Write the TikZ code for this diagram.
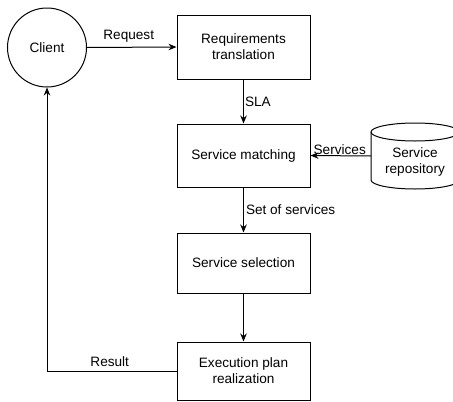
\documentclass[tikz,border=0pt]{standalone}
\usepackage{fontspec}
\setmainfont{Liberation Sans}
\usetikzlibrary{arrows.meta}
\begin{document}
\begin{tikzpicture}[x=1pt,y=-1pt,
  every node/.style={font=\fontsize{13.6}{16}\selectfont},
  proc/.style={draw,line width=1pt,minimum width=133pt,align=center,inner sep=0pt},
  flow/.style={line width=1pt,-{Stealth[length=8pt,width=6.5pt]}},
  lbl/.style={inner sep=1pt}]
\clip (0,0) rectangle (453,402);
\useasboundingbox (0,0) rectangle (453,402);

% client
\node[draw,circle,line width=1pt,minimum size=79pt,inner sep=0pt] (client) at (47,47.5) {Client};

% process steps
\node[proc,minimum height=64pt] (req) at (243.5,47) {Requirements\\translation};
\node[proc,minimum height=63pt] (match) at (243.5,155.5) {Service matching};
\node[proc,minimum height=60pt] (sel) at (243.5,263) {Service selection};
\node[proc,minimum height=58pt] (exec) at (243.5,371) {Execution plan\\realization};

% repository cylinder
\coordinate (repo) at (371,156);
\draw[line width=1pt,fill=white] (371,132) -- (371,180) arc[start angle=180,end angle=360,x radius=44,y radius=-9]
  -- (459,132);
\draw[line width=1pt] (415,132) ellipse[x radius=44,y radius=9];
\node[align=center] (repolbl) at (415,162) {Service\\repository};

% connectors
\draw[flow] (client.east) -- node[above,lbl,yshift=3pt,xshift=-3pt] {Request} (req.west);
\draw[flow] (req.south) -- node[right,lbl] {SLA} (match.north);
\draw[flow] (repo) -- node[above,lbl,xshift=-1pt] {Services} (match.east);
\draw[flow] (match.south) -- node[right,lbl,xshift=1pt] {Set of services} (sel.north);
\draw[flow] (sel.south) -- (exec.north);
\draw[flow] (exec.west) -- node[above,lbl,xshift=-2pt,yshift=3pt] {Result} (47,371) -- (client.south);
\end{tikzpicture}
\end{document}
